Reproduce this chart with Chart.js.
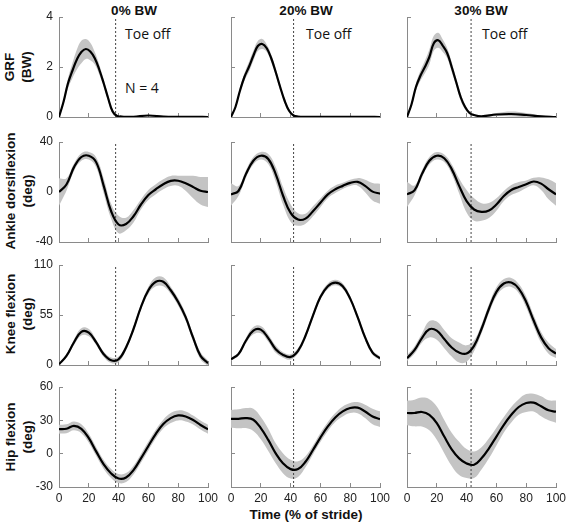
<!DOCTYPE html>
<html>
<head>
<meta charset="utf-8">
<script src="https://cdn.jsdelivr.net/npm/chart.js@4.4.1/dist/chart.umd.min.js"></script>
<style>
  body { margin: 0; background: #fff; }
  #fig { position: relative; width: 567px; height: 522px; overflow: hidden; font-family: "Liberation Sans", Arial, sans-serif; color: #111; }
  #fig canvas { position: absolute; }
  .lbl { position: absolute; white-space: nowrap; transform: translate(-50%, -50%); }
  .bold { font-weight: bold; font-size: 13.5px; }
  .note { position: absolute; white-space: nowrap; font-family: "Open Sans", sans-serif; font-size: 14px; transform: translate(0, -50%); }
  .ytitle { text-align: center; line-height: 17px; transform: translate(-50%, -50%) rotate(-90deg); }
</style>
</head>
<body>
<div id="fig">
  <div class="lbl bold" style="left:134px;top:10px">0% BW</div>
  <div class="lbl bold" style="left:306px;top:10px">20% BW</div>
  <div class="lbl bold" style="left:481px;top:10px">30% BW</div>

  <div class="note" style="left:125px;top:33px">Toe off</div>
  <div class="note" style="left:306px;top:33px">Toe off</div>
  <div class="note" style="left:482px;top:33px">Toe off</div>
  <div class="note" style="left:125px;top:87px">N = 4</div>

  <div class="lbl bold ytitle" style="left:18px;top:67px">GRF<br>(BW)</div>
  <div class="lbl bold ytitle" style="left:19px;top:191px">Ankle dorsiflexion<br>(deg)</div>
  <div class="lbl bold ytitle" style="left:19px;top:314px">Knee flexion<br>(deg)</div>
  <div class="lbl bold ytitle" style="left:19px;top:437px">Hip flexion<br>(deg)</div>

  <div class="lbl bold" style="left:306px;top:514px">Time (% of stride)</div>
</div>
<script>
// time axis (% of stride)
const strideX = [0, 5, 10, 15, 20, 25, 30, 35, 40, 45, 50, 55, 60, 65, 70, 75, 80, 85, 90, 95, 100];
const grfX = [0, 3, 6, 9, 12, 15, 18, 21, 24, 27, 30, 33, 36, 39, 42, 45, 50, 60, 70, 80, 90, 100];
const xTicks = [0, 20, 40, 60, 80, 100];

// toe off for 0%, 20%, 30% BW
const toeOff = [38, 42, 43];

// GRF (BW), mean and SD
const grf0Mean = [0, 0.6, 1.34, 1.85, 2.3, 2.6, 2.72, 2.62, 2.35, 1.9, 1.35, 0.75, 0.22, 0.04, 0.02, 0.01, 0.01, 0.06, 0.02, 0.01, 0.01, 0];
const grf0Sd = [0, 0.1, 0.2, 0.3, 0.4, 0.45, 0.4, 0.35, 0.25, 0.2, 0.15, 0.12, 0.1, 0.04, 0.02, 0.01, 0.01, 0.02, 0.02, 0.01, 0.01, 0];
const grf20Mean = [0, 0.4, 1.05, 1.6, 2.0, 2.45, 2.84, 2.92, 2.75, 2.35, 1.8, 1.2, 0.65, 0.25, 0.06, 0.02, 0.01, 0.01, 0.01, 0.01, 0.01, 0];
const grf20Sd = [0, 0.05, 0.1, 0.15, 0.2, 0.2, 0.2, 0.2, 0.15, 0.15, 0.15, 0.12, 0.1, 0.08, 0.04, 0.02, 0.01, 0.01, 0.01, 0.01, 0.01, 0];
const grf30Mean = [0, 0.5, 1.2, 1.65, 2.0, 2.4, 2.95, 3.07, 2.85, 2.55, 2.0, 1.4, 0.8, 0.4, 0.16, 0.08, 0.03, 0.1, 0.12, 0.08, 0.03, 0];
const grf30Sd = [0, 0.08, 0.15, 0.2, 0.25, 0.3, 0.3, 0.3, 0.25, 0.2, 0.2, 0.15, 0.15, 0.1, 0.05, 0.03, 0.02, 0.06, 0.1, 0.08, 0.03, 0];

// ankle dorsiflexion (deg)
const ankle0Mean = [0, 6, 19.7, 28, 29, 23.7, 4.9, -15.4, -26, -25.6, -19.4, -10, -2.4, 2.2, 6.2, 8.9, 9, 7, 4, 1, 0];
const ankle0Sd = [11, 5, 3, 3, 3, 4, 6, 6, 7, 5, 5, 4, 4, 4, 4, 4, 4, 6, 9, 11, 12];
const ankle20Mean = [-1.9, 0.8, 14.3, 25, 29, 26.4, 14.3, -3.2, -16.7, -22, -21.3, -15.4, -8.6, -1.9, 2.2, 4.9, 7.3, 8.1, 4.9, 0.3, -1.3];
const ankle20Sd = [9, 4, 3, 3, 3, 4, 6, 7, 7, 5, 4, 4, 3.5, 3, 3, 2.5, 2.5, 3, 5, 7, 8];
const ankle30Mean = [-1.9, 1.3, 14.3, 25, 29, 27, 18.3, 4.9, -7.3, -14, -15.9, -14.8, -10, -3.2, 1.6, 4, 6.2, 8.4, 6.7, 2.2, -1.9];
const ankle30Sd = [10, 4, 3, 3, 3, 3, 4, 6, 9, 9, 7, 6, 5, 4, 4, 4, 3, 3, 5, 8, 9];

// knee flexion (deg)
const knee0Mean = [0.7, 10, 24.8, 36.5, 35.5, 24.8, 11.9, 5.2, 6.3, 19.3, 39.6, 63.7, 82.2, 91.5, 91.5, 82.2, 69.3, 52.6, 30, 10, 2];
const knee0Sd = [1, 2, 3, 4, 4, 3, 3, 3, 3, 3, 3, 3, 4, 5, 5, 4, 4, 4, 4, 4, 3];
const knee20Mean = [6.3, 11.9, 26.7, 37.8, 38.9, 29.6, 17.4, 11.1, 8.9, 15.6, 32.2, 54.4, 74.8, 86.7, 90.7, 86.7, 73, 52.6, 30.4, 13.7, 7.4];
const knee20Sd = [1.5, 2, 3, 4, 4, 4, 4, 3, 3, 3, 3, 3, 3, 3, 3, 3, 3, 3, 3, 2.5, 2];
const knee30Mean = [7.4, 16.3, 29.6, 39.3, 37.8, 28.5, 19.3, 13.7, 12.6, 21.1, 39.6, 61.9, 80.4, 89.6, 90.7, 84, 69.3, 48.9, 30.4, 18.5, 12.6];
const knee30Sd = [3, 4, 5, 9, 10, 10, 10, 11, 9, 6, 5, 5, 5, 5, 5, 5, 6, 6, 6, 6, 5];

// hip flexion (deg)
const hip0Mean = [22, 22.4, 25, 22.4, 13.9, 1.8, -9.7, -17.8, -22.4, -21.5, -14.8, -4.2, 6.9, 17.8, 26.6, 32, 34.4, 33.5, 30.3, 25.8, 22];
const hip0Sd = [4, 4, 4, 4, 4, 4, 4, 4, 4, 4, 4, 4, 4, 4, 4, 4.5, 4.5, 4.5, 4, 4, 4];
const hip20Mean = [31.4, 31.4, 32, 30.5, 23, 12.4, 0.3, -8.8, -13.9, -13.9, -7.3, 3.3, 14.5, 24.5, 32.6, 38, 41.1, 41.4, 38, 33.5, 31.1];
const hip20Sd = [8, 8.5, 9, 10, 10, 10, 9, 9, 8.5, 7, 5, 4, 4, 4, 4, 4.5, 4.5, 5, 6, 7, 7];
const hip30Mean = [36.6, 36.6, 37.5, 35, 27.5, 15.4, 3.9, -4.2, -8.8, -10, -4.2, 4.8, 15.4, 26, 35, 42, 45.6, 45.9, 42.6, 39, 37.8];
const hip30Sd = [11, 12, 13, 14, 15, 15, 15, 15, 13, 12, 10, 9, 8, 7, 7, 7, 8, 8, 9, 9, 10];

// y axis limits per row (GRF, ankle, knee, hip)
const yMin = [0, -40, 0, -30];
const yMax = [4, 40, 110, 60];
const yStep = [2, 40, 55, 30];

// layout of the 4x3 grid (plot area corners on the page)
const colLeft = [59, 231, 407];
const rowTop = [17, 142, 265, 387];
const plotW = 149, plotH = 100;
const axisW = 30, axisH = 20, padTop = 10, padRight = 14;

Chart.defaults.font.family = '"Liberation Sans", Arial, sans-serif';
Chart.defaults.font.size = 12;
Chart.defaults.color = "#222";

const panels = [
  [grfX, grf0Mean, grf0Sd], [grfX, grf20Mean, grf20Sd], [grfX, grf30Mean, grf30Sd],
  [strideX, ankle0Mean, ankle0Sd], [strideX, ankle20Mean, ankle20Sd], [strideX, ankle30Mean, ankle30Sd],
  [strideX, knee0Mean, knee0Sd], [strideX, knee20Mean, knee20Sd], [strideX, knee30Mean, knee30Sd],
  [strideX, hip0Mean, hip0Sd], [strideX, hip20Mean, hip20Sd], [strideX, hip30Mean, hip30Sd],
];

// keep tick labels from pushing the plot area around
function noPadding(s) {
  s.paddingTop = 0;
  s.paddingBottom = 0;
  s.paddingLeft = 0;
  s.paddingRight = 0;
}

const fig = document.getElementById("fig");

panels.forEach((p, i) => {
  const row = Math.floor(i / 3);
  const col = i % 3;
  const [xs, mean, sd] = p;

  const canvas = document.createElement("canvas");
  const w = axisW + plotW + padRight;
  const h = padTop + plotH + axisH;
  canvas.width = w;
  canvas.height = h;
  canvas.style.width = w + "px";
  canvas.style.height = h + "px";
  canvas.style.left = colLeft[col] - axisW + "px";
  canvas.style.top = rowTop[row] - padTop + "px";
  fig.appendChild(canvas);

  const meanPts = xs.map((x, k) => ({ x: x, y: mean[k] }));
  const upperPts = xs.map((x, k) => ({ x: x, y: mean[k] + sd[k] }));
  const lowerPts = xs.map((x, k) => ({ x: x, y: mean[k] - sd[k] }));
  const toePts = [{ x: toeOff[col], y: yMin[row] }, { x: toeOff[col], y: yMax[row] }];

  new Chart(canvas, {
    type: "line",
    data: {
      datasets: [
        {
          data: meanPts,
          order: 0,
          borderColor: "#000",
          borderWidth: 2.2,
          pointRadius: 0,
          fill: false,
          tension: 0.4,
        },
        {
          data: toePts,
          order: 1,
          borderColor: "#444",
          borderWidth: 1,
          borderDash: [2, 2],
          pointRadius: 0,
          fill: false,
        },
        {
          data: upperPts,
          order: 2,
          borderWidth: 0,
          borderColor: "rgba(0,0,0,0)",
          backgroundColor: "#c4c4c4",
          pointRadius: 0,
          fill: "+1",
          tension: 0.4,
        },
        {
          data: lowerPts,
          order: 3,
          borderWidth: 0,
          borderColor: "rgba(0,0,0,0)",
          pointRadius: 0,
          fill: false,
          tension: 0.4,
        },
      ],
    },
    options: {
      responsive: false,
      animation: false,
      events: [],
      layout: { padding: { top: padTop, right: padRight, left: 0, bottom: 0 } },
      plugins: { legend: { display: false }, tooltip: { enabled: false } },
      scales: {
        x: {
          type: "linear",
          min: 0,
          max: 100,
          afterBuildTicks: (s) => { s.ticks = xTicks.map((v) => ({ value: v })); },
          afterFit: (s) => { s.height = axisH; noPadding(s); },
          border: { display: true, color: "#8a8a8a", width: 1 },
          grid: { drawOnChartArea: false, tickLength: -4, color: "#8a8a8a" },
          ticks: { display: row === 3, padding: 8, maxRotation: 0 },
        },
        y: {
          min: yMin[row],
          max: yMax[row],
          ticks: { stepSize: yStep[row], display: col === 0, padding: 10 },
          afterFit: (s) => { s.width = axisW; noPadding(s); },
          border: { display: true, color: "#8a8a8a", width: 1 },
          grid: { drawOnChartArea: false, tickLength: -4, color: "#8a8a8a" },
        },
      },
    },
  });
});
</script>
</body>
</html>
